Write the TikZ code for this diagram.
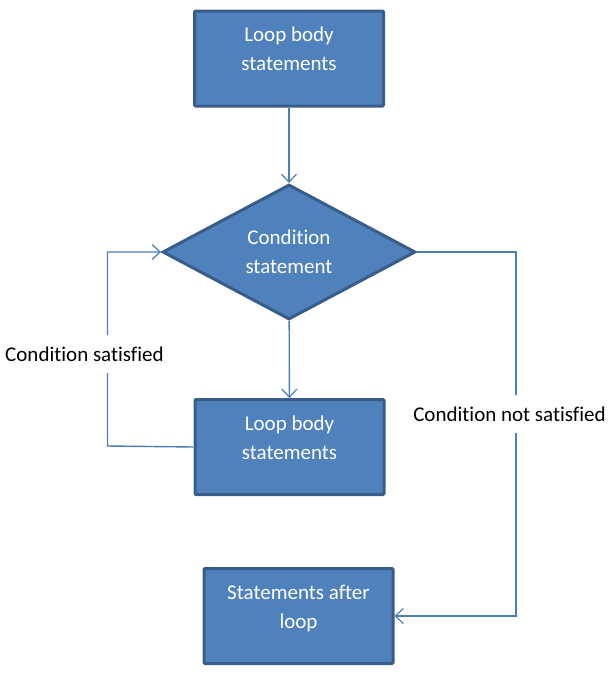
\documentclass[tikz,border=0pt]{standalone}
\usepackage{fontspec}
\setmainfont{Carlito}[Ligatures=NoCommon]
\usetikzlibrary{shapes.geometric,arrows.meta}
\definecolor{boxfill}{HTML}{4F81BD}
\definecolor{boxline}{HTML}{385D8A}
\definecolor{flowline}{HTML}{4A7EBB}

\begin{document}
\begin{tikzpicture}[x=1pt,y=-1pt,
        font=\fontsize{21}{29}\selectfont,
        stepbox/.style={draw=boxline,fill=boxfill,line width=3pt,text=white,
            minimum width=189pt,minimum height=95pt,align=center,inner sep=0pt,rounded corners=1pt},
        decision/.style={diamond,draw=boxline,fill=boxfill,line width=3pt,text=white,
            minimum width=253pt,minimum height=135pt,align=center,inner sep=0pt},
        flow/.style={draw=flowline,line width=1.4pt,-{Straight Barb[length=8pt,width=15pt,line width=1.2pt]}},
        note/.style={fill=white,inner xsep=2pt,inner ysep=12pt}]
    \useasboundingbox (0,0) rectangle (612,681);
    \node[stepbox] (top) at (289,58.5) {Loop body\\statements\\[-10pt]~};
    \node[decision] (cond) at (289,252) {Condition\\statement};
    \node[stepbox] (body) at (289.5,447) {Loop body\\statements\\[-10pt]~};
    \node[stepbox] (after) at (298.5,616) {Statements after\\loop\\[-10pt]~};
    \draw[flow] (top) -- (cond);
    \draw[flow] (cond) -- (body);
    \draw[flow] (body.west) -- ++(-86,-1) coordinate (sw) |- (cond.west);
    \draw[flow] (cond.east) -- ++(99,0) coordinate (ne) |- (after.east);
    \node[note] (sat) at (84.5,354) {Condition satisfied};
    \node[note] (nsat) at (509.5,414) {Condition not satisfied};
\end{tikzpicture}
\end{document}
